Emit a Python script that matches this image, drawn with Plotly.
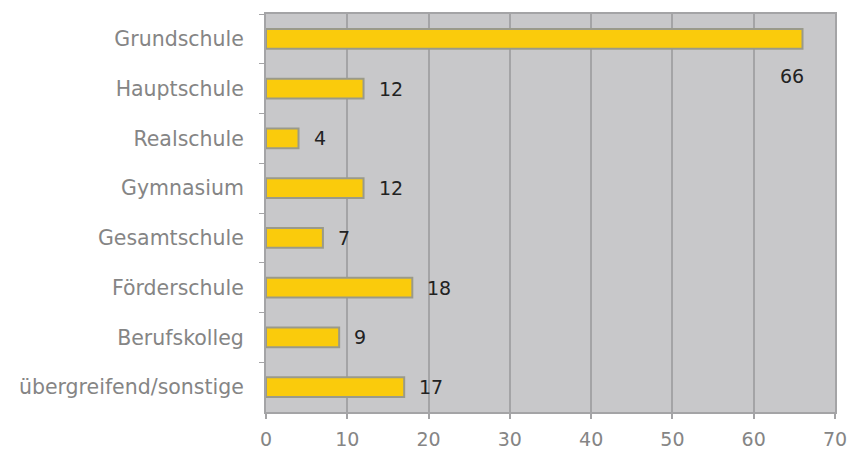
import plotly.graph_objects as go

categories = ["Grundschule", "Hauptschule", "Realschule", "Gymnasium",
              "Gesamtschule", "Förderschule", "Berufskolleg", "übergreifend/sonstige"]
values = [66, 12, 4, 12, 7, 18, 9, 17]
x_ticks = [0, 10, 20, 30, 40, 50, 60, 70]

FONT = "DejaVu Sans"

fig = go.Figure()
fig.add_trace(go.Bar(
    x=values, y=categories, orientation="h",
    marker=dict(color="#FACB0C", line=dict(color="#9A9A8A", width=2)),
    width=0.4,
))

for c, v in zip(categories, values):
    if v == max(values):
        fig.add_annotation(x=v, y=c, text=str(v), showarrow=False,
                           xanchor="center", yanchor="middle", xshift=-10, yshift=-37,
                           font=dict(family=FONT, size=19, color="#222222"))
    else:
        fig.add_annotation(x=v, y=c, text=str(v), showarrow=False,
                           xanchor="left", yanchor="middle", xshift=13, yshift=0,
                           font=dict(family=FONT, size=19, color="#222222"))

fig.update_layout(
    width=848, height=450,
    margin=dict(l=266, r=13, t=14, b=38),
    paper_bgcolor="white",
    plot_bgcolor="#C8C8CA",
    showlegend=False,
    font=dict(family=FONT, size=19, color="#858585"),
)
fig.update_xaxes(range=[0, 70], tickvals=x_ticks, showgrid=True, gridcolor="#A4A4A6", gridwidth=2,
                 showline=True, linecolor="#A4A4A6", linewidth=2, mirror=True,
                 ticks="outside", ticklen=5, tickcolor="#A4A4A6", tickwidth=2,
                 zeroline=False, automargin=False, ticklabelstandoff=4,
                 tickfont=dict(size=19, color="#858585"))
fig.update_yaxes(categoryorder="array", categoryarray=categories, range=[7.5, -0.5],
                 showline=True, linecolor="#A4A4A6", linewidth=2, mirror=True,
                 ticks="outside", ticklen=5, tickcolor="#A4A4A6", tickwidth=1, tickson="boundaries",
                 showgrid=False, ticklabelstandoff=16, automargin=False,
                 tickfont=dict(size=20.5, color="#858585"))

fig.write_html("out.html", config={"displayModeBar": False},
               post_script="document.body.style.margin='0';document.body.style.overflow='hidden';")
